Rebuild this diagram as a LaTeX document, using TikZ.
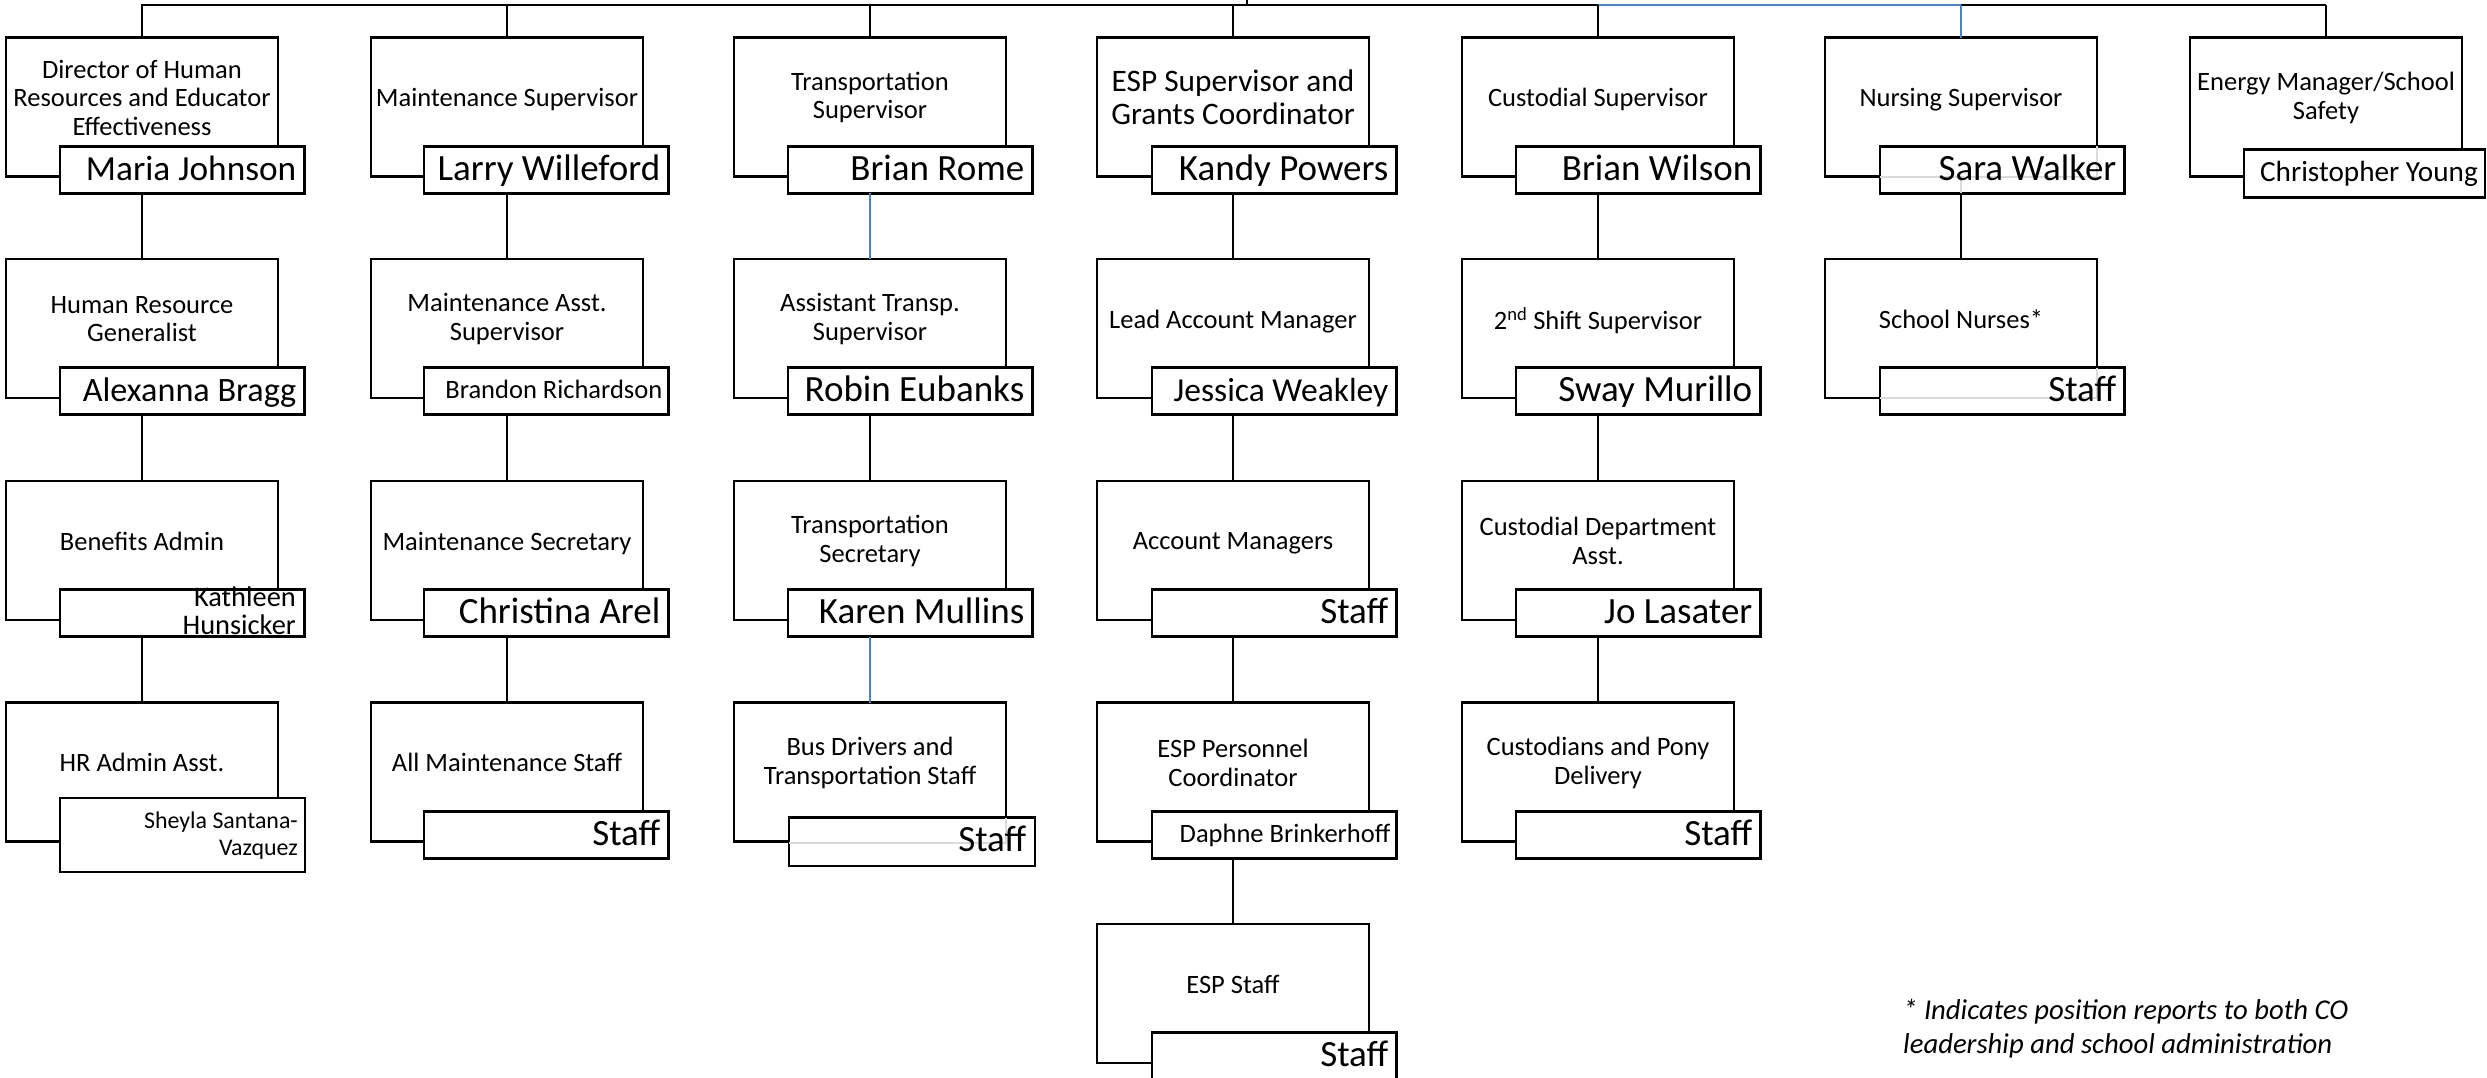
\documentclass[tikz,border=0pt]{standalone}
\usepackage{fontspec}
\setmainfont{Carlito}
\usetikzlibrary{calc}
\definecolor{linkblue}{RGB}{79,129,189}
\definecolor{ghost}{RGB}{218,218,218}
\tikzset{
  bigbox/.style={draw=black, line width=2.8pt, fill=white, anchor=north west,
    minimum width=272pt, minimum height=139pt, inner sep=0pt, outer sep=0pt},
  namebox/.style={draw=black, line width=2.8pt, fill=white, anchor=north west,
    minimum width=244.5pt, minimum height=47pt, inner sep=0pt, outer sep=0pt},
  ttl/.style={align=center, inner sep=0pt, font=\fontsize{26.5}{28.5}\selectfont},
  oneline/.style={text depth=0pt},
  nm/.style={anchor=base east, inner sep=0pt, font=\fontsize{37}{40}\selectfont},
  smallnm/.style={font=\fontsize{26.5}{28}\selectfont},
  link/.style={line width=2.6pt, black},
  bluelink/.style={line width=2.6pt, linkblue},
  faint/.style={line width=2pt, ghost},
  note/.style={anchor=north west, align=left, inner sep=0pt,
    font=\fontsize{28.7}{33.5}\selectfont\itshape},
}
% big box: #1 title options, #2 id, #3 x, #4 y, #5 title
\newcommand\bx[5][]{%
  \node[bigbox] (#2) at (#3,#4) {};
  \node[ttl,#1] (#2t) at ([yshift=-60pt]#2.north) {#5};
}
% name box only
\newcommand\nbox[3]{\node[namebox] (#1) at (#2,#3) {};}
% name text: #1 options, #2 id of box, #3 text
\newcommand\ntx[3][]{\node[nm,#1] (#2t) at ([xshift=-8pt,yshift=-34pt]#2.north east) {#3};}
% name box with text
\newcommand\nb[5][]{\nbox{#2}{#3}{#4}\ntx[#1]{#2}{#5}}

\begin{document}
\begin{tikzpicture}[x=1pt,y=-1pt]
\fill[white] (0,0) rectangle (2487,1078);
\useasboundingbox (0,0) rectangle (2487,1078);
\coordinate (top) at (0,5);
\coordinate (root) at (1247,0);

% ---------- row 1 ----------
\bx{b11}{6}{37.7}{Director of Human\\Resources and Educator\\Effectiveness}
\nb[font=\fontsize{35.3}{38}\selectfont]{n11}{60}{146.4}{Maria Johnson}
\bx[oneline]{b21}{371}{37.7}{Maintenance Supervisor}
\nb{n21}{424}{146.4}{Larry Willeford}
\bx{b31}{734}{37.7}{Transportation\\Supervisor}
\nb{n31}{788}{146.4}{Brian Rome}
\bx[font=\fontsize{31.3}{33}\selectfont]{b41}{1097}{37.7}{ESP Supervisor and\\Grants Coordinator}
\nb{n41}{1152}{146.4}{Kandy Powers}
\bx[oneline]{b51}{1462}{37.7}{Custodial Supervisor}
\nb{n51}{1516}{146.4}{Brian Wilson}
\bx[oneline]{b61}{1825}{37.7}{Nursing Supervisor}
\nbox{n61}{1880}{146.4}
\draw[faint] (1880,177.5) -- (2097,177.5) -- (2097,146.4);
\draw[faint] (1961,177.5) -- (1961,193.4);
\ntx{n61}{Sara Walker}
\bx{b71}{2190}{37.7}{Energy Manager/School\\Safety}
\node[namebox, minimum width=241pt, minimum height=48.4pt] (n71) at (2244,149.3) {};
\node[nm, font=\fontsize{29.2}{31}\selectfont] (n71t) at ([xshift=-7pt,yshift=-32.4pt]n71.north east) {Christopher Young};

% ---------- row 2 ----------
\bx{b12}{6}{259}{Human Resource\\Generalist}
\nb[font=\fontsize{34.2}{37}\selectfont]{n12}{60}{367.7}{Alexanna Bragg}
\bx{b22}{371}{259}{Maintenance Asst.\\Supervisor}
\nbox{n22}{424}{367.7}
\node[nm, smallnm] (n22t) at ([xshift=-6pt,yshift=-30.5pt]n22.north east) {Brandon Richardson};
\bx{b32}{734}{259}{Assistant Transp.\\Supervisor}
\nb{n32}{788}{367.7}{Robin Eubanks}
\bx[oneline]{b42}{1097}{259}{Lead Account Manager}
\nb[font=\fontsize{33.5}{36}\selectfont]{n42}{1152}{367.7}{Jessica Weakley}
\bx[oneline]{b52}{1462}{259}{2\textsuperscript{nd} Shift Supervisor}
\nb{n52}{1516}{367.7}{Sway Murillo}
\bx[oneline]{b62}{1825}{259}{School Nurses*}
\nbox{n62}{1880}{367.7}
\draw[faint] (1880,398) -- (2097,398) -- (2097,367.7);
\ntx{n62}{Staff}

% ---------- row 3 ----------
\bx[oneline]{b13}{6}{481}{Benefits Admin}
\nbox{n13}{60}{589.7}
\node[anchor=south east, align=right, inner sep=0pt, font=\fontsize{28.4}{28.3}\selectfont] (n13t) at (296,635) {Kathleen\\Hunsicker};
\bx[oneline]{b23}{371}{481}{Maintenance Secretary}
\nb{n23}{424}{589.7}{Christina Arel}
\bx{b33}{734}{481}{Transportation\\Secretary}
\nb{n33}{788}{589.7}{Karen Mullins}
\bx[oneline]{b43}{1097}{481}{Account Managers}
\nb{n43}{1152}{589.7}{Staff}
\bx{b53}{1462}{481}{Custodial Department\\Asst.}
\nb{n53}{1516}{589.7}{Jo Lasater}

% ---------- row 4 ----------
\bx[oneline]{b14}{6}{702.7}{HR Admin Asst.}
\node[namebox, minimum width=245pt, minimum height=74pt] (n14) at (60,798) {};
\node[anchor=south east, align=right, inner sep=0pt, font=\fontsize{23.9}{27}\selectfont] (n14t) at (298,859.5) {Sheyla Santana-\\Vazquez};
\bx[oneline]{b24}{371}{702.7}{All Maintenance Staff}
\nb{n24}{424}{811.4}{Staff}
\bx{b34}{734}{702.7}{Bus Drivers and\\Transportation Staff}
\node[namebox, minimum width=246pt, minimum height=48.3pt] (n34) at (789,817.7) {};
\draw[faint] (789,842.7) -- (1006,842.7) -- (1006,817.7);
\node[nm] (n34t) at ([xshift=-8.5pt,yshift=-34pt]n34.north east) {Staff};
\bx{b44}{1097}{702.7}{ESP Personnel\\Coordinator}
\nbox{n44}{1152}{811.4}
\node[nm, smallnm] (n44t) at ([xshift=-6pt,yshift=-31.5pt]n44.north east) {Daphne Brinkerhoff};
\bx{b54}{1462}{702.7}{Custodians and Pony\\Delivery}
\nb{n54}{1516}{811.4}{Staff}

% ---------- row 5 ----------
\bx[oneline]{b45}{1097}{924}{ESP Staff}
\nb{n45}{1152}{1032.7}{Staff}

% ---------- top line ----------
\draw[link, line cap=rect] (b11.north |- top) -- (b51.north |- top);
\draw[bluelink] (b51.north |- top) -- (b61.north |- top);
\draw[link, line width=2pt] (b61.north |- top) -- (b71.north |- top);
\draw[link] (root) -- (root |- top);
\foreach \c in {b11,b21,b31,b41,b51,b71} \draw[link] (\c.north |- top) -- (\c.north);
\draw[bluelink] (b61.north |- top) -- (b61.north);

% ---------- column links ----------
\draw[link] (b12.north |- n11.south) -- (b12.north);
\draw[link] (b13.north |- n12.south) -- (b13.north);
\draw[link] (b14.north |- n13.south) -- (b14.north);
\draw[link] (b22.north |- n21.south) -- (b22.north);
\draw[link] (b23.north |- n22.south) -- (b23.north);
\draw[link] (b24.north |- n23.south) -- (b24.north);
\draw[bluelink] (b32.north |- n31.south) -- (b32.north);
\draw[link] (b33.north |- n32.south) -- (b33.north);
\draw[bluelink] (b34.north |- n33.south) -- (b34.north);
\draw[link] (b42.north |- n41.south) -- (b42.north);
\draw[link] (b43.north |- n42.south) -- (b43.north);
\draw[link] (b44.north |- n43.south) -- (b44.north);
\draw[link] (b45.north |- n44.south) -- (b45.north);
\draw[link] (b52.north |- n51.south) -- (b52.north);
\draw[link] (b53.north |- n52.south) -- (b53.north);
\draw[link] (b54.north |- n53.south) -- (b54.north);
\draw[link] (b62.north |- n61.south) -- (b62.north);

% ---------- note ----------
\node[note] (note) at (1903,999) {* Indicates position reports to both CO\\leadership and school administration};
\end{tikzpicture}
\end{document}
